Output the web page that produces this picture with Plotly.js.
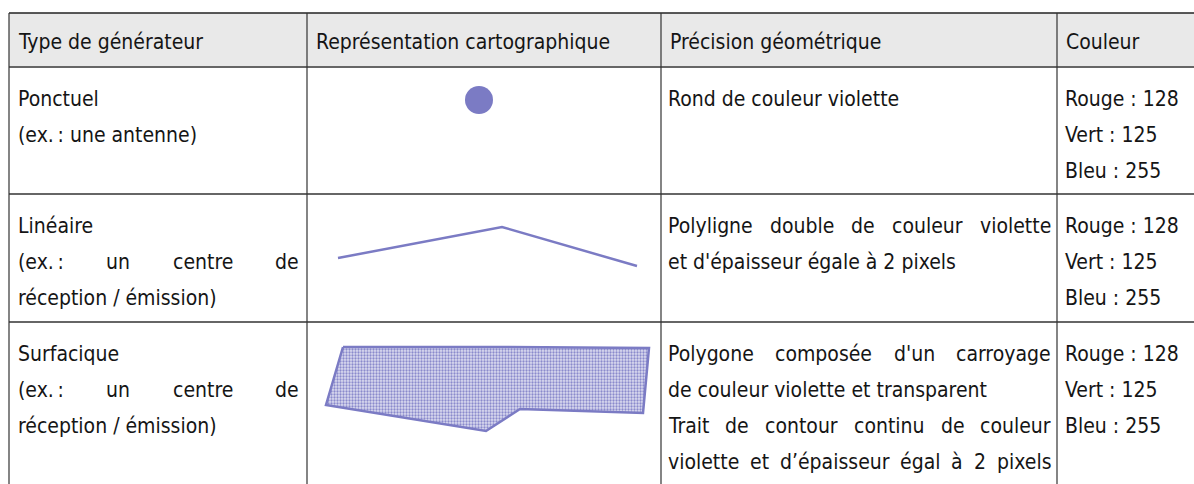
<!DOCTYPE html>
<html>
<head>
<meta charset="utf-8">
<script src="https://cdn.plot.ly/plotly-3.0.1.min.js"></script>
<style>html,body{margin:0;padding:0;background:#fff;}#chart{width:1194px;height:484px;}</style>
</head>
<body>
<div id="chart"></div>
<script>
// ---------- data ----------
const headers = ["Type de générateur", "Représentation cartographique", "Précision géométrique", "Couleur"];

const generatorTypes = [
  ["Ponctuel", "(ex.\u202F: une antenne)"],
  ["Linéaire", "(ex.\u202F: un centre de", "réception / émission)"],
  ["Surfacique", "(ex.\u202F: un centre de", "réception / émission)"]
];
const generatorJustify = [
  [false, false],
  [false, true, false],
  [false, true, false]
];

const precisionTexts = [
  ["Rond de couleur violette"],
  ["Polyligne double de couleur violette", "et d'épaisseur égale à 2 pixels"],
  ["Polygone composée d'un carroyage", "de couleur violette et transparent",
   "Trait de contour continu de couleur", "violette et d\u2019épaisseur égal à 2 pixels"]
];
const precisionJustify = [
  [false],
  [true, false],
  [true, false, true, true]
];

const channelNames = ["Rouge", "Vert", "Bleu"];
const rgbValues = [
  [128, 125, 255],
  [128, 125, 255],
  [128, 125, 255]
];

// symbol geometry (drawing units of the sketch)
const pointX = [479];
const pointY = [100];
const lineX = [338, 502, 637];
const lineY = [258, 227, 266];
const polyX = [343, 499, 649, 643, 520, 486, 326, 343];
const polyY = [347, 347, 348, 413, 409, 431, 405, 347];

// ---------- layout constants ----------
const W = 1194, H = 484;
const colX = [9, 307, 661, 1057, 1194];
const rowY = [13, 67, 194, 322, 484];
const padL = 9, padR = 8;
const lineGap = 36;
const firstLineOffset = 32;
const FONT_SIZE = 21;
const FONT_FAMILY = "DejaVu Sans Condensed";
const TEXT_COLOR = "#151515";
const VIOLET = "#7b7bc4";

const canvas = document.createElement("canvas");
const ctx = canvas.getContext("2d");
ctx.font = FONT_SIZE + "px '" + FONT_FAMILY + "'";
function tw(s) { return ctx.measureText(s).width; }

const annotations = [];
function addText(text, x, y) {
  annotations.push({
    text: text, x: x, y: y, xref: "x", yref: "y",
    xanchor: "left", yanchor: "middle", showarrow: false,
    borderpad: 0, borderwidth: 0,
    font: {family: FONT_FAMILY, size: FONT_SIZE, color: TEXT_COLOR}
  });
}
function addLine(text, x0, x1, y, justify) {
  if (!justify) { addText(text, x0, y); return; }
  const words = text.split(" ");
  const total = words.reduce((s, w) => s + tw(w), 0);
  const gap = (x1 - x0 - total) / (words.length - 1);
  let x = x0;
  words.forEach(w => { addText(w, x, y); x += tw(w) + gap; });
}

// header
const headerY = (rowY[0] + rowY[1]) / 2 + 2;
headers.forEach((h, i) => addText(h, colX[i] + padL, headerY));

// body
for (let r = 0; r < 3; r++) {
  const y0 = rowY[r + 1] + firstLineOffset;
  generatorTypes[r].forEach((t, k) =>
    addLine(t, colX[0] + padL, colX[1] - padR, y0 + k * lineGap, generatorJustify[r][k]));
  precisionTexts[r].forEach((t, k) =>
    addLine(t, colX[2] + padL - 2, colX[3] - padR + 2, y0 + k * lineGap, precisionJustify[r][k]));
  rgbValues[r].forEach((v, k) =>
    addText(channelNames[k] + " : " + v, colX[3] + padL - 1, y0 + k * lineGap));
}

// grid shapes
const shapes = [];
shapes.push({type: "rect", xref: "x", yref: "y", x0: colX[0], x1: W, y0: rowY[0], y1: rowY[1],
  fillcolor: "#e9e9e9", line: {width: 0}, layer: "below"});
shapes.push({type: "line", xref: "x", yref: "y", x0: colX[0], x1: W, y0: rowY[0], y1: rowY[0],
  line: {color: "#222222", width: 1.5}});
for (let r = 1; r < 4; r++) {
  shapes.push({type: "line", xref: "x", yref: "y", x0: colX[0], x1: W, y0: rowY[r], y1: rowY[r],
    line: {color: "#666666", width: 1.8}});
}
for (let c = 0; c < 4; c++) {
  shapes.push({type: "line", xref: "x", yref: "y", x0: colX[c], x1: colX[c], y0: rowY[0], y1: H,
    line: {color: "#333333", width: 1.2}});
}

const traces = [
  {x: polyX, y: polyY, mode: "lines", fill: "toself", fillcolor: "#c4c4e6",
   fillpattern: {shape: ".", size: 3, solidity: 0.45, fgcolor: "#8a8acc", bgcolor: "#dcdcf0"},
   line: {color: VIOLET, width: 2.5}, hoverinfo: "skip", showlegend: false},
  {x: lineX, y: lineY, mode: "lines", line: {color: VIOLET, width: 2.5},
   hoverinfo: "skip", showlegend: false},
  {x: pointX, y: pointY, mode: "markers", marker: {size: 28, color: VIOLET},
   hoverinfo: "skip", showlegend: false}
];

const layout = {
  width: W, height: H,
  margin: {l: 0, r: 0, t: 0, b: 0},
  paper_bgcolor: "#ffffff", plot_bgcolor: "#ffffff",
  xaxis: {range: [0, W], visible: false, fixedrange: true},
  yaxis: {range: [H, 0], visible: false, fixedrange: true},
  showlegend: false,
  shapes: shapes,
  annotations: annotations
};

Plotly.newPlot("chart", traces, layout, {displayModeBar: false, staticPlot: true});
</script>
</body>
</html>
